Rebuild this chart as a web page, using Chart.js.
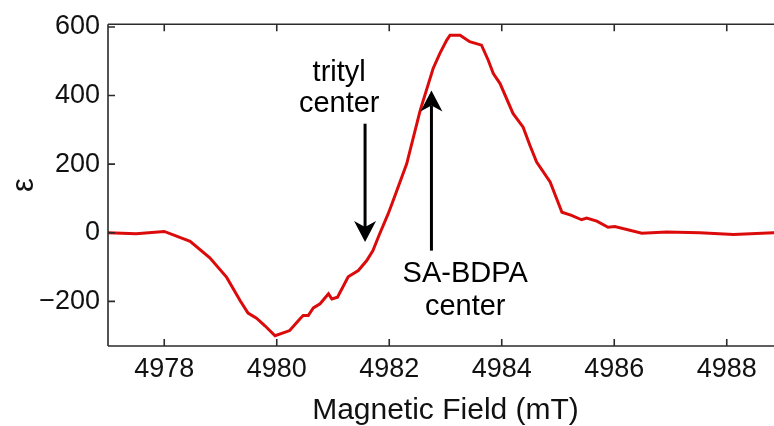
<!DOCTYPE html>
<html>
<head>
<meta charset="utf-8">
<script src="https://cdn.jsdelivr.net/npm/chart.js@4"></script>
<style>
  html, body { margin: 0; padding: 0; background: #fff; }
  #wrap { width: 774px; height: 426px; overflow: hidden; position: relative; }
  canvas { position: absolute; left: 0; top: 0; }
</style>
</head>
<body>
<div id="wrap"><canvas id="myChart" width="800" height="426"></canvas></div>
<script>
// magnetic field (mT) and epsilon
var fieldMT = [4977.0, 4977.5, 4978.0, 4978.46, 4978.81, 4979.11, 4979.35, 4979.49, 4979.64, 4979.79,
  4979.97, 4980.23, 4980.41, 4980.47, 4980.56, 4980.65, 4980.77, 4980.92, 4980.98, 4981.08,
  4981.27, 4981.45, 4981.6, 4981.71, 4981.83, 4981.98, 4982.07, 4982.31, 4982.55, 4982.66,
  4982.78, 4982.9, 4983.02, 4983.08, 4983.26, 4983.43, 4983.64, 4983.76, 4983.85, 4983.97,
  4984.2, 4984.38, 4984.5, 4984.62, 4984.86, 4985.07, 4985.24, 4985.42, 4985.51, 4985.69,
  4985.89, 4986.01, 4986.49, 4986.93, 4987.52, 4988.12, 4988.83, 4989.0];
var epsilon = [0, -3, 4, -25, -73, -130, -198, -234, -249, -271,
  -300, -285, -251, -241, -241, -219, -207, -178, -193, -188,
  -128, -110, -81, -52, -3, 55, 94, 201, 357, 415,
  479, 523, 561, 576, 576, 557, 547, 503, 464, 435,
  348, 308, 255, 206, 148, 60, 51, 38, 43, 34,
  16, 18, -1, 2, 0, -5, 0, 0];

var xTicks = [4978, 4980, 4982, 4984, 4986, 4988];
var yTicks = [-200, 0, 200, 400, 600];

// annotations (data coordinates)
var arrowX = [4981.57, 4982.75];
var arrowFrom = [318, -52];
var arrowTo = [-27, 415];
var noteText = ["trityl", "center", "SA-BDPA", "center"];
var noteX = [4981.11, 4981.11, 4983.35, 4983.35];
var noteY = [443, 352, -144, -241];

var FONT = "'Liberation Sans', Arial, Helvetica, sans-serif";

function fmt(v) {
  return v < 0 ? "\u2212" + Math.abs(v) : String(v);
}

// frame, inward ticks, arrows and notes
var decor = {
  id: "decor",
  afterDatasetsDraw: function (chart) {
    var ctx = chart.ctx;
    var a = chart.chartArea;
    var xs = chart.scales.x, ys = chart.scales.y;
    ctx.save();
    ctx.strokeStyle = "#2b2b2b";
    ctx.lineWidth = 1.6;
    ctx.beginPath();
    ctx.moveTo(a.left, a.top); ctx.lineTo(a.right, a.top);
    ctx.moveTo(a.left, a.bottom); ctx.lineTo(a.right, a.bottom);
    ctx.moveTo(a.left, a.top); ctx.lineTo(a.left, a.bottom);
    ctx.moveTo(a.right, a.top); ctx.lineTo(a.right, a.bottom);
    var tl = 7;
    xTicks.forEach(function (v) {
      var px = xs.getPixelForValue(v);
      ctx.moveTo(px, a.bottom); ctx.lineTo(px, a.bottom - tl);
      ctx.moveTo(px, a.top); ctx.lineTo(px, a.top + tl);
    });
    yTicks.forEach(function (v) {
      var py = ys.getPixelForValue(v);
      ctx.moveTo(a.left, py); ctx.lineTo(a.left + tl, py);
      ctx.moveTo(a.right, py); ctx.lineTo(a.right - tl, py);
    });
    ctx.stroke();

    ctx.strokeStyle = "#000";
    ctx.fillStyle = "#000";
    ctx.lineWidth = 3;
    for (var i = 0; i < arrowX.length; i++) {
      var x = xs.getPixelForValue(arrowX[i]);
      var y0 = ys.getPixelForValue(arrowFrom[i]);
      var y1 = ys.getPixelForValue(arrowTo[i]);
      var dir = y1 > y0 ? 1 : -1;
      var hl = 21, hw = 11, notch = 6;
      ctx.beginPath();
      ctx.moveTo(x, y0);
      ctx.lineTo(x, y1 - dir * (hl - notch));
      ctx.stroke();
      ctx.beginPath();
      ctx.moveTo(x, y1);
      ctx.lineTo(x - hw, y1 - dir * hl);
      ctx.lineTo(x, y1 - dir * (hl - notch));
      ctx.lineTo(x + hw, y1 - dir * hl);
      ctx.closePath();
      ctx.fill();
    }

    ctx.font = "29px " + FONT;
    ctx.textAlign = "center";
    ctx.textBaseline = "alphabetic";
    for (var j = 0; j < noteText.length; j++) {
      ctx.fillText(noteText[j], xs.getPixelForValue(noteX[j]), ys.getPixelForValue(noteY[j]));
    }
    ctx.restore();
  }
};

var ctx = document.getElementById("myChart").getContext("2d");
var myChart = new Chart(ctx, {
  type: "line",
  data: {
    datasets: [
      {
        data: fieldMT.map(function (x, i) { return { x: x, y: epsilon[i] }; }),
        borderColor: "#dc0b0b",
        borderWidth: 3,
        pointRadius: 0,
        tension: 0,
        fill: false,
      },
    ],
  },
  options: {
    responsive: false,
    animation: false,
    layout: { padding: { top: 24, right: 17, left: 0, bottom: 0 } },
    plugins: { legend: { display: false }, tooltip: { enabled: false } },
    scales: {
      x: {
        type: "linear",
        min: 4977,
        max: 4989,
        afterBuildTicks: function (scale) {
          scale.ticks = xTicks.map(function (v) { return { value: v }; });
        },
        afterFit: function (scale) { scale.height = 80; },
        grid: { display: false, drawTicks: false },
        border: { display: false },
        ticks: {
          padding: 7,
          color: "#111",
          font: { family: FONT, size: 27 },
          callback: function (v) { return fmt(v); },
          maxRotation: 0,
        },
        title: {
          display: true,
          text: "Magnetic Field (mT)",
          color: "#111",
          font: { family: FONT, size: 30 },
          padding: { top: 0, bottom: -3 },
        },
      },
      y: {
        min: -330,
        max: 608,
        afterBuildTicks: function (scale) {
          scale.ticks = yTicks.map(function (v) { return { value: v }; });
        },
        afterFit: function (scale) { scale.width = 108; },
        grid: { display: false, drawTicks: false },
        border: { display: false },
        ticks: {
          padding: 8,
          color: "#111",
          font: { family: FONT, size: 27 },
          callback: function (v) { return fmt(v); },
        },
        title: {
          display: true,
          text: "\u03b5",
          color: "#111",
          font: { family: FONT, size: 31 },
          padding: { top: 6, bottom: 0 },
        },
      },
    },
  },
  plugins: [decor],
});
</script>
</body>
</html>
